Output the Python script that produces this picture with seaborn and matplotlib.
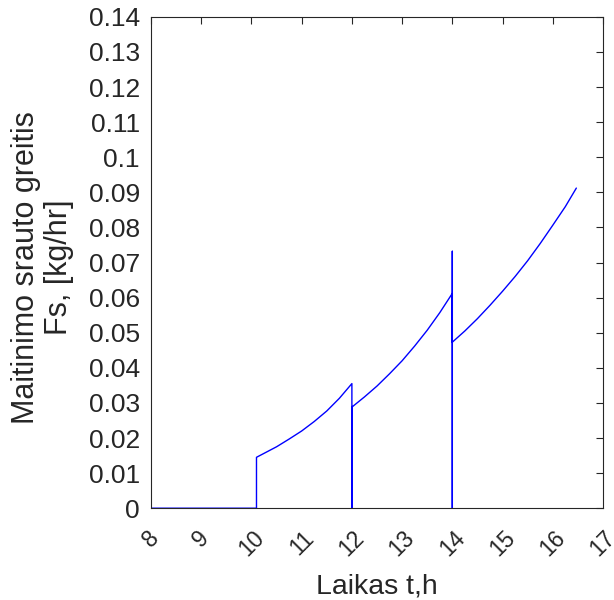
import matplotlib
matplotlib.use("Agg")
import matplotlib.pyplot as plt
import seaborn as sns
import pandas as pd

# Time (h) and feed rate Fs (kg/hr), in drawing order
t_zero = [8.0, 10.1]
fs_zero = [0.0, 0.0]
t_seg1 = [10.1, 10.1, 10.3, 10.5, 10.75, 11.0, 11.25, 11.5, 11.75, 12.0, 12.0]
fs_seg1 = [0.0, 0.0145, 0.0160, 0.0175, 0.0197, 0.0220, 0.0247, 0.0277, 0.0313, 0.0355, 0.0]
t_seg2 = [12.0, 12.25, 12.5, 12.75, 13.0, 13.25, 13.5, 13.75, 14.0, 14.0, 14.0]
fs_seg2 = [0.0288, 0.0317, 0.0348, 0.0383, 0.0420, 0.0462, 0.0507, 0.0557, 0.0612, 0.0, 0.0732]
t_seg3 = [14.0, 14.25, 14.5, 14.75, 15.0, 15.25, 15.5, 15.75, 16.0, 16.25, 16.47]
fs_seg3 = [0.0473, 0.0505, 0.0540, 0.0578, 0.0618, 0.0660, 0.0705, 0.0754, 0.0806, 0.0859, 0.0912]

x_ticks = list(range(8, 18))
y_ticks = [0, 0.01, 0.02, 0.03, 0.04, 0.05, 0.06, 0.07, 0.08, 0.09, 0.1, 0.11, 0.12, 0.13, 0.14]
y_tick_labels = ["0", "0.01", "0.02", "0.03", "0.04", "0.05", "0.06", "0.07", "0.08", "0.09",
                 "0.1", "0.11", "0.12", "0.13", "0.14"]

t_all = t_zero + t_seg1 + t_seg2 + t_seg3
fs_all = fs_zero + fs_seg1 + fs_seg2 + fs_seg3
df = pd.DataFrame({"t": t_all, "Fs": fs_all})

sns.set_style("white")
plt.rcParams["font.family"] = ["Liberation Sans", "DejaVu Sans"]
txt = "#262626"

fig = plt.figure(figsize=(6.14, 6.0), dpi=100)
ax = fig.add_axes([0.246, 0.153, 0.736, 0.819])
sns.lineplot(data=df, x="t", y="Fs", sort=False, estimator=None, color="#0000ff",
             linewidth=1.0, ax=ax)

ax.set_xlim(8, 17)
ax.set_ylim(0, 0.14)
ax.set_xticks(x_ticks)
ax.set_xticklabels([str(v) for v in x_ticks], rotation=45, ha="center", va="top",
                   fontsize=16.5, color=txt)
ax.set_yticks(y_ticks)
ax.set_yticklabels(y_tick_labels, fontsize=19, color=txt)
ax.tick_params(direction="in", length=5, width=0.8, color=txt, top=True, right=True)
ax.tick_params(axis="y", pad=8)
ax.tick_params(axis="x", pad=13)
for s in ax.spines.values():
    s.set_visible(True)
    s.set_color(txt)
    s.set_linewidth(0.8)
ax.set_xlabel("Laikas t,h", fontsize=20.5, color=txt)
ax.xaxis.set_label_coords(0.5, -0.133)
ax.set_ylabel("Maitinimo srauto greitis\nFs, [kg/hr]", fontsize=22, color=txt,
              linespacing=1.15)
ax.yaxis.set_label_coords(-0.17, 0.49)

fig.savefig("out.png", dpi=100, facecolor="white")
